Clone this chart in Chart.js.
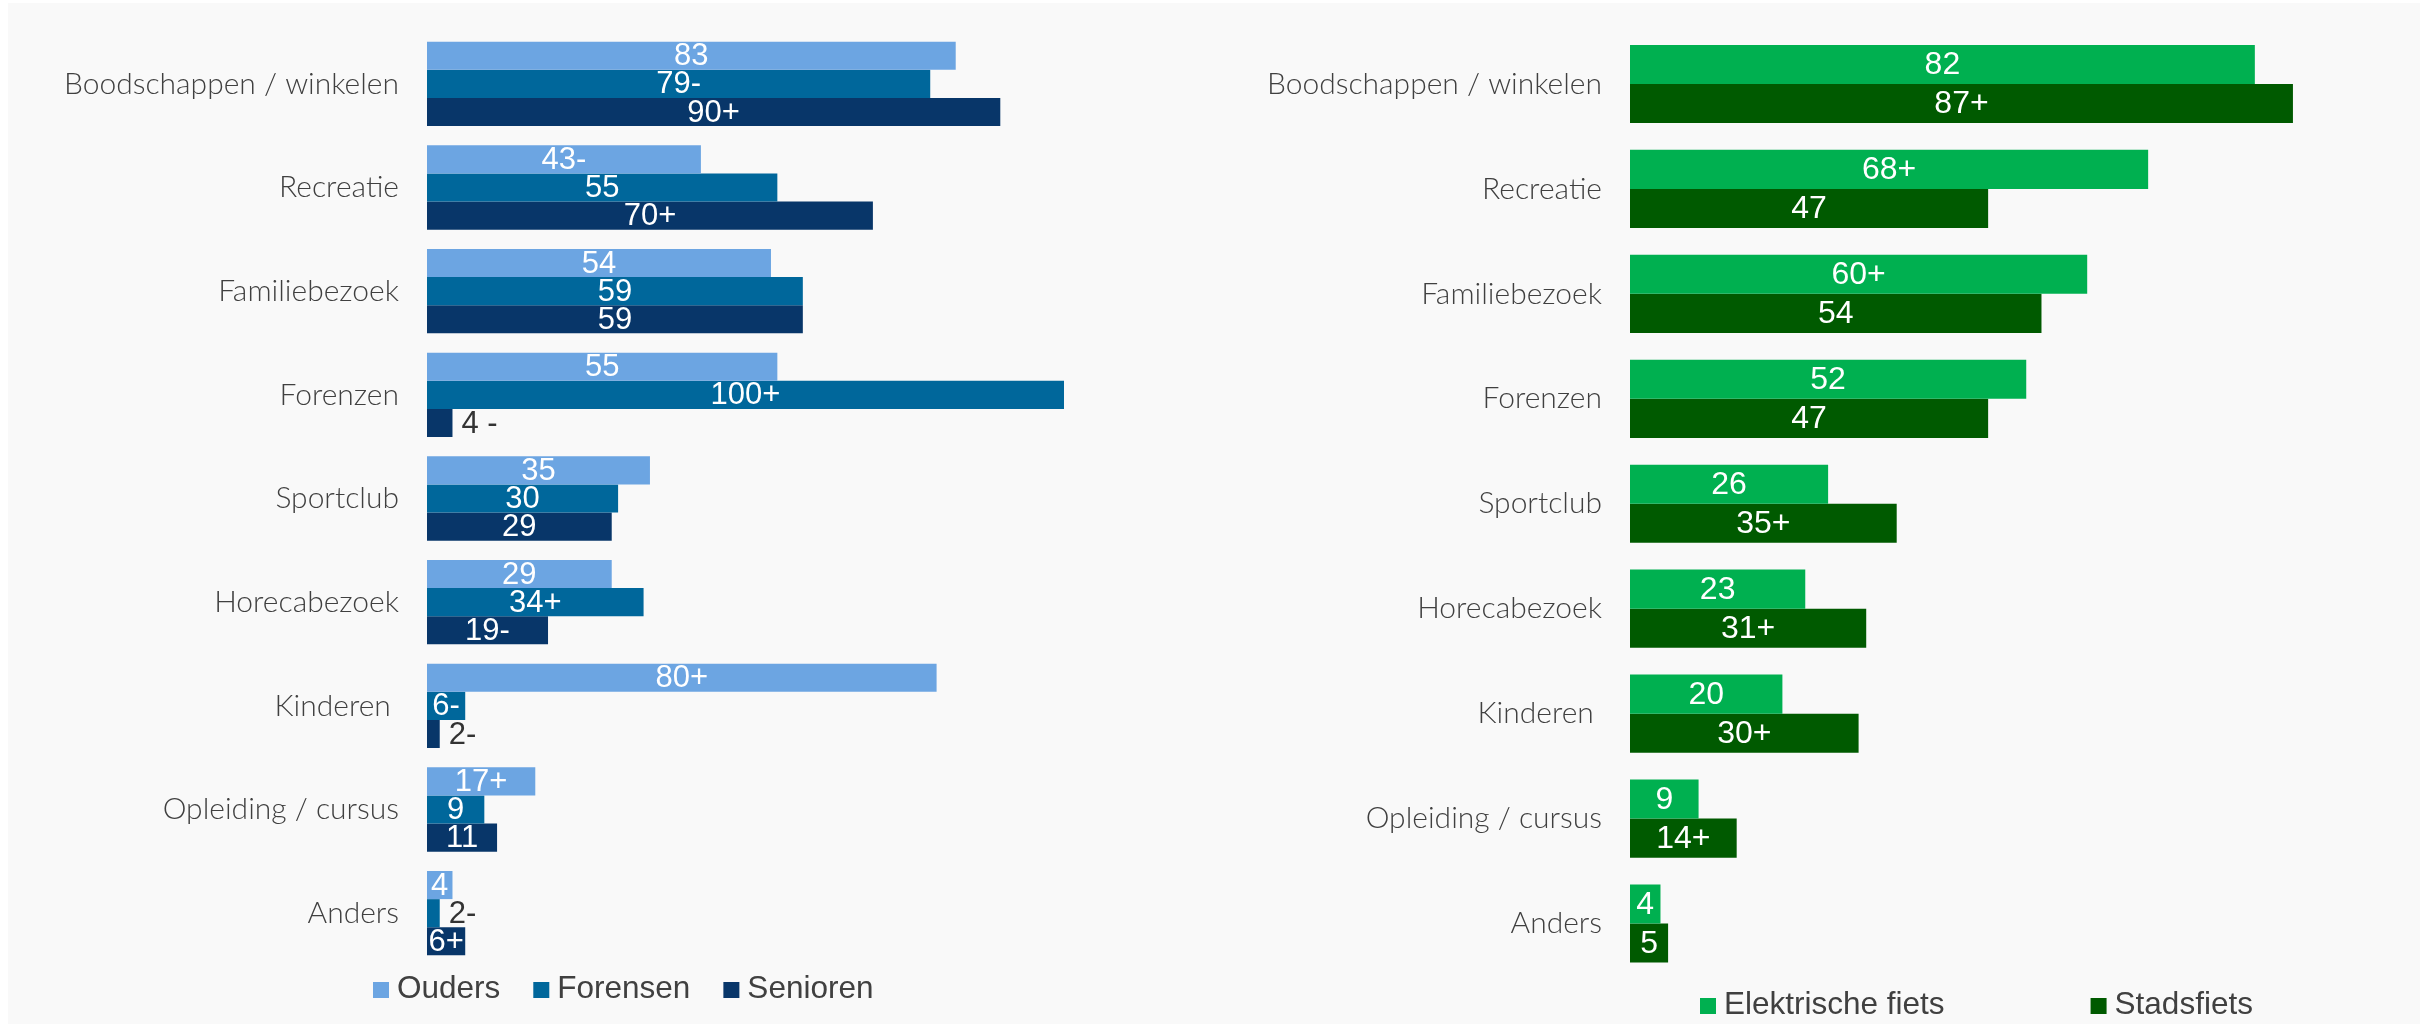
<!DOCTYPE html>
<html>
<head>
<meta charset="utf-8">
<title>Verplaatsingsmotieven fiets</title>
<script src="https://cdn.jsdelivr.net/npm/chart.js@4/dist/chart.umd.min.js"></script>
<style>
  body { margin: 0; background: #ffffff; }
  #panel { position: absolute; left: 8px; top: 3px; width: 2412px; height: 1021px; background: #f9f9f9; }
  canvas { position: absolute; top: 0; }
  #leftChart { left: 0; }
  #rightChart { left: 1200px; }
</style>
</head>
<body>
<div id="panel"></div>
<canvas id="leftChart" width="1200" height="1024"></canvas>
<canvas id="rightChart" width="1225" height="1024"></canvas>

<script>
// motives, shared by both charts (Kinderen has a trailing space in the source sheet)
const categories = [
  'Boodschappen / winkelen', 'Recreatie', 'Familiebezoek', 'Forenzen', 'Sportclub',
  'Horecabezoek', 'Kinderen ', 'Opleiding / cursus', 'Anders'
];

// target groups
const ouders = [83, 43, 54, 55, 35, 29, 80, 17, 4];
const oudersMarks = ['', '-', '', '', '', '', '+', '+', ''];
const forensen = [79, 55, 59, 100, 30, 34, 6, 9, 2];
const forensenMarks = ['-', '', '', '+', '', '+', '-', '', '-'];
const senioren = [90, 70, 59, 4, 29, 19, 2, 11, 6];
const seniorenMarks = ['+', '+', '', ' -', '', '-', '-', '', '+'];

// bike types
const elektrisch = [82, 68, 60, 52, 26, 23, 20, 9, 4];
const elektrischMarks = ['', '+', '+', '', '', '', '', '', ''];
const stadsfiets = [87, 47, 54, 47, 35, 31, 30, 14, 5];
const stadsfietsMarks = ['+', '', '', '', '+', '+', '+', '+', ''];

const labelFont = "'Liberation Sans', Arial, sans-serif";

/*
*   Writes the value (plus significance mark) on every bar.
*   White and centred when it fits inside the bar, dark and just right of it otherwise.
*/
const valueLabels = {
  id: 'valueLabels',
  afterDatasetsDraw(chart, args, opts) {
    const { ctx } = chart;
    ctx.save();
    ctx.font = `${opts.size}px ${labelFont}`;
    ctx.textBaseline = 'middle';

    chart.data.datasets.forEach((ds, i) => {
      const meta = chart.getDatasetMeta(i);
      meta.data.forEach((bar, j) => {
        const text = ds.data[j] + ds.marks[j];
        const w = ctx.measureText(text).width;
        const len = bar.x - bar.base;
        if (w <= len) {
          ctx.fillStyle = '#ffffff';
          ctx.textAlign = 'center';
          ctx.fillText(text, bar.base + len / 2, bar.y + 1);
        } else {
          ctx.fillStyle = '#333333';
          ctx.textAlign = 'left';
          ctx.fillText(text, bar.x + 9, bar.y + 1);
        }
      });
    });
    ctx.restore();
  }
};

/*
*   Simple legend row under the bars: square swatch, label, then a fixed gap to the next item
*/
const bottomLegend = {
  id: 'bottomLegend',
  afterDraw(chart, args, opts) {
    const { ctx } = chart;
    ctx.save();
    ctx.font = `31.5px ${labelFont}`;
    ctx.textBaseline = 'middle';
    ctx.textAlign = 'left';

    let x = opts.x;
    chart.data.datasets.forEach(ds => {
      ctx.fillStyle = ds.backgroundColor;
      ctx.fillRect(x, opts.y - 8, 16, 16);
      x += 24;
      ctx.fillStyle = '#404040';
      ctx.fillText(ds.label, x, opts.y - 1);
      x += ctx.measureText(ds.label).width + opts.gap;
    });
    ctx.restore();
  }
};

/*
*   Builds one horizontal grouped bar chart.
*   axisWidth fixes where the bars start, padding fixes the plot box.
*/
function renderBarChart(canvasId, datasets, setup) {
  const ctx = document.getElementById(canvasId).getContext('2d');

  return new Chart(ctx, {
    type: 'bar',
    data: {
      labels: categories,
      datasets: datasets.map(ds => ({
        ...ds,
        borderWidth: 0,
        barPercentage: 1,
        categoryPercentage: setup.groupWidth
      }))
    },
    options: {
      indexAxis: 'y',
      responsive: false,
      animation: false,
      layout: { padding: setup.padding },
      plugins: {
        legend: { display: false },
        tooltip: { enabled: false },
        valueLabels: { size: setup.valueSize },
        bottomLegend: setup.legend
      },
      scales: {
        x: { display: false, min: 0, max: 100 },
        y: {
          grid: { display: false },
          border: { display: false },
          ticks: {
            padding: 20,
            color: '#404040',
            font: { family: 'Lato', size: 30, weight: '300' }
          },
          // fixed axis width; drop the label overhang so layout.padding alone sets the plot box
          afterFit: (scale) => {
            scale.width = setup.axisWidth;
            scale.paddingTop = 0;
            scale.paddingBottom = 0;
          }
        }
      }
    },
    plugins: [valueLabels, bottomLegend]
  });
}

renderBarChart('leftChart', [
  { label: 'Ouders', data: ouders, marks: oudersMarks, backgroundColor: '#6ca5e2' },
  { label: 'Forensen', data: forensen, marks: forensenMarks, backgroundColor: '#00679b' },
  { label: 'Senioren', data: senioren, marks: seniorenMarks, backgroundColor: '#083669' }
], {
  groupWidth: 0.814,
  axisWidth: 427,
  padding: { left: 0, right: 136, top: 32, bottom: 59 },
  valueSize: 31,
  legend: { x: 373, y: 990, gap: 33 }
});

renderBarChart('rightChart', [
  { label: 'Elektrische fiets', data: elektrisch, marks: elektrischMarks, backgroundColor: '#00b050' },
  { label: 'Stadsfiets', data: stadsfiets, marks: stadsfietsMarks, backgroundColor: '#005a00' }
], {
  groupWidth: 0.745,
  axisWidth: 430,
  padding: { left: 0, right: 33, top: 31.5, bottom: 48 },
  valueSize: 32,
  legend: { x: 500, y: 1006, gap: 146 }
});
</script>
</body>
</html>
